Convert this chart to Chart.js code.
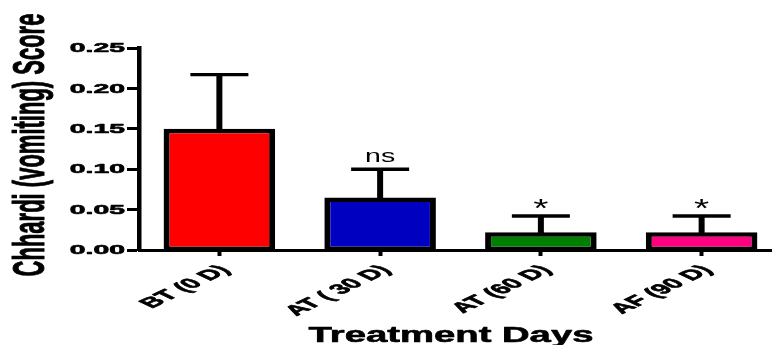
<!DOCTYPE html>
<html>
<head>
<meta charset="utf-8">
<script src="https://cdn.jsdelivr.net/npm/chart.js@4/dist/chart.umd.min.js"></script>
<style>
  html, body { margin: 0; padding: 0; background: #fff; overflow: hidden; width: 772px; height: 345px; }
  canvas { display: block; }
</style>
</head>
<body>
<canvas id="chart" width="782" height="345"></canvas>
<script>
// Chhardi (vomiting) score by treatment day: mean with upper SEM bar
const categories = ['BT (0 D)', 'AT ( 30 D)', 'AT (60 D)', 'AF (90 D)'];
const meanScores = [0.15, 0.065, 0.022, 0.022];
const semScores = [0.067, 0.035, 0.020, 0.020];
const significance = ['', 'ns', '*', '*'];
const barColors = ['#FF0000', '#0000C0', '#008000', '#FF0080'];
const yTickValues = [0, 0.05, 0.10, 0.15, 0.20, 0.25];
const yTitle = 'Chhardi (vomiting) Score';
const xTitle = 'Treatment Days';

const FONT = '"Liberation Sans", Arial, sans-serif';

// Draw text stretched along its own axes, optionally thickened with a stroke
function drawText(ctx, text, x, y, opts) {
  ctx.save();
  ctx.translate(x, y);
  if (opts.rotate) ctx.rotate(opts.rotate);
  ctx.scale(opts.sx || 1, opts.sy || 1);
  if (opts.rotateAfter) ctx.rotate(opts.rotateAfter);
  ctx.font = opts.font;
  ctx.fillStyle = '#000';
  ctx.strokeStyle = '#000';
  ctx.lineJoin = 'round';
  ctx.textAlign = opts.align || 'left';
  ctx.textBaseline = opts.baseline || 'alphabetic';
  ctx.fillText(text, 0, 0);
  if (opts.heavy) {
    ctx.lineWidth = opts.heavy;
    ctx.strokeText(text, 0, 0);
  }
  ctx.restore();
}

const markSizes = { 'ns': 19, '*': 26 };

const errorBarPlugin = {
  id: 'errorBars',
  afterDatasetsDraw(chart) {
    const ctx = chart.ctx;
    const meta = chart.getDatasetMeta(0);
    const yScale = chart.scales.y;
    ctx.save();
    ctx.strokeStyle = '#000';
    meta.data.forEach((bar, i) => {
      const x = bar.x;
      const yTop = yScale.getPixelForValue(meanScores[i]);
      const yErr = yScale.getPixelForValue(meanScores[i] + semScores[i]);
      // stem
      ctx.lineWidth = 6;
      ctx.beginPath();
      ctx.moveTo(x, yTop + 2);
      ctx.lineTo(x, yErr);
      ctx.stroke();
      // cap
      ctx.lineWidth = 3.4;
      ctx.beginPath();
      ctx.moveTo(x - 29, yErr);
      ctx.lineTo(x + 29, yErr);
      ctx.stroke();
      // significance mark above the cap
      const mark = significance[i];
      if (mark) {
        const font = (markSizes[mark] || 20) + 'px ' + FONT;
        ctx.save();
        ctx.font = font;
        const m = ctx.measureText(mark);
        ctx.restore();
        drawText(ctx, mark, x, yErr - 7 - m.actualBoundingBoxDescent, {
          font: font, sx: 1.5, align: 'center', baseline: 'alphabetic'
        });
      }
    });
    ctx.restore();
  }
};

const labelPlugin = {
  id: 'axisText',
  afterDraw(chart) {
    const ctx = chart.ctx;
    const xScale = chart.scales.x;
    const yScale = chart.scales.y;
    // y tick labels
    yTickValues.forEach(v => {
      drawText(ctx, v.toFixed(2), yScale.right - 14, yScale.getPixelForValue(v) + 0.5, {
        font: 'bold 13.5px ' + FONT, sx: 2.1, align: 'right', baseline: 'middle', heavy: 0.6
      });
    });
    // x tick labels, rotated
    categories.forEach((c, i) => {
      const x = xScale.getPixelForValue(i);
      drawText(ctx, c, x + 6, xScale.top + 18, {
        font: 'bold 14px ' + FONT, sx: 2.1, rotateAfter: -Math.PI / 4, align: 'right', baseline: 'middle', heavy: 0.6
      });
    });
    // axis titles
    drawText(ctx, xTitle, 451, 342, {
      font: 'bold 22.5px ' + FONT, sx: 1.7, align: 'center', baseline: 'alphabetic', heavy: 0.6
    });
    drawText(ctx, yTitle, 44, 145, {
      font: 'bold 22px ' + FONT, rotate: -Math.PI / 2, sy: 2.05, align: 'center', baseline: 'alphabetic', heavy: 0.5
    });
  }
};

new Chart(document.getElementById('chart'), {
  type: 'bar',
  data: {
    labels: categories,
    datasets: [{
      data: meanScores,
      backgroundColor: barColors,
      borderColor: '#000',
      borderWidth: { left: 6, right: 6, top: 4.5, bottom: 3 },
      borderSkipped: false,
      categoryPercentage: 0.694,
      barPercentage: 1
    }]
  },
  options: {
    responsive: false,
    animation: false,
    devicePixelRatio: 1,
    layout: { padding: { top: 48, left: 0, right: 0, bottom: 0 } },
    plugins: { legend: { display: false }, tooltip: { enabled: false } },
    scales: {
      x: {
        offset: true,
        grid: { display: true, drawOnChartArea: false, offset: false, drawTicks: true, tickLength: 6, tickWidth: 4, color: '#000' },
        border: { display: true, color: '#000', width: 3 },
        ticks: { display: false },
        afterFit(scale) { scale.height = 95; }
      },
      y: {
        min: 0,
        max: 0.25,
        ticks: { display: false, stepSize: 0.05 },
        grid: { display: true, drawOnChartArea: false, drawTicks: true, tickLength: 12, tickWidth: 3, color: '#000' },
        border: { display: true, color: '#000', width: 4.5 },
        afterFit(scale) { scale.width = 139; }
      }
    }
  },
  plugins: [errorBarPlugin, labelPlugin]
});
</script>
</body>
</html>
